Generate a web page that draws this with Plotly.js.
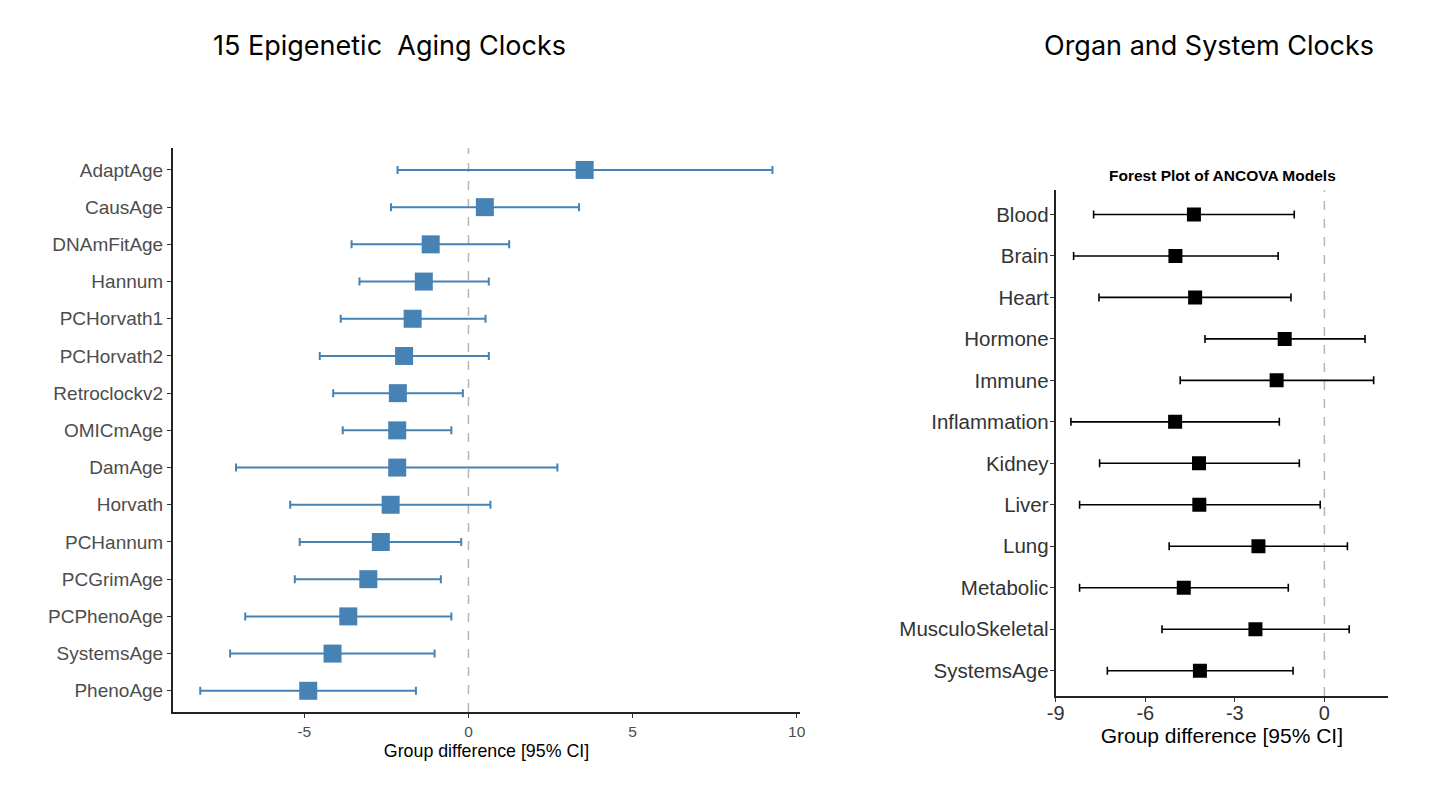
<!DOCTYPE html>
<html>
<head>
<meta charset="utf-8">
<script src="https://cdn.plot.ly/plotly-3.0.1.min.js"></script>
<style>html,body{margin:0;padding:0;background:#fff;}#chart{width:1456px;height:793px;}</style>
</head>
<body>
<div id="chart"></div>
<script>
// Left panel: 15 epigenetic clocks (top to bottom)
const epiClocks = ["AdaptAge","CausAge","DNAmFitAge","Hannum","PCHorvath1","PCHorvath2","Retroclockv2","OMICmAge","DamAge","Horvath","PCHannum","PCGrimAge","PCPhenoAge","SystemsAge","PhenoAge"];
const epiEst   = [3.54, 0.50, -1.15, -1.36, -1.70, -1.96, -2.15, -2.17, -2.17, -2.37, -2.67, -3.05, -3.66, -4.14, -4.88];
const epiLower = [-2.16, -2.36, -3.56, -3.32, -3.89, -4.53, -4.12, -3.83, -7.08, -5.43, -5.14, -5.29, -6.80, -7.26, -8.17];
const epiUpper = [9.26, 3.37, 1.24, 0.62, 0.52, 0.62, -0.17, -0.52, 2.71, 0.67, -0.22, -0.84, -0.52, -1.03, -1.60];
const epiTicks = [-5, 0, 5, 10];

// Right panel: organ and system clocks (top to bottom)
const organClocks = ["Blood","Brain","Heart","Hormone","Immune","Inflammation","Kidney","Liver","Lung","Metabolic","MusculoSkeletal","SystemsAge"];
const organEst   = [-4.37, -4.99, -4.33, -1.33, -1.60, -5.00, -4.20, -4.19, -2.21, -4.71, -2.31, -4.17];
const organLower = [-7.73, -8.40, -7.55, -4.00, -4.83, -8.49, -7.53, -8.20, -5.20, -8.20, -5.44, -7.27];
const organUpper = [-1.01, -1.55, -1.12, 1.36, 1.65, -1.51, -0.84, -0.14, 0.77, -1.21, 0.83, -1.05];
const organTicks = [-9, -6, -3, 0];

const AXFONT = "Liberation Sans, Arial, sans-serif";
const TITLEFONT = "Inter, Lato, sans-serif";

const traces = [
  {
    type: "scatter", mode: "markers", xaxis: "x", yaxis: "y",
    x: epiEst, y: epiClocks,
    marker: {symbol: "square", size: 18, color: "#4682B4"},
    error_x: {type: "data", symmetric: false,
      array: epiUpper.map((u, i) => u - epiEst[i]),
      arrayminus: epiLower.map((l, i) => epiEst[i] - l),
      color: "#4682B4", thickness: 2, width: 4},
    hoverinfo: "x+y", showlegend: false
  },
  {
    type: "scatter", mode: "markers", xaxis: "x2", yaxis: "y2",
    x: organEst, y: organClocks,
    marker: {symbol: "square", size: 14, color: "#000000"},
    error_x: {type: "data", symmetric: false,
      array: organUpper.map((u, i) => u - organEst[i]),
      arrayminus: organLower.map((l, i) => organEst[i] - l),
      color: "#000000", thickness: 1.6, width: 4},
    hoverinfo: "x+y", showlegend: false
  }
];

const layout = {
  width: 1456, height: 793,
  margin: {l: 0, r: 0, t: 0, b: 0},
  paper_bgcolor: "#ffffff", plot_bgcolor: "#ffffff",
  showlegend: false,
  xaxis: {
    domain: [173/1456, 800/1456], anchor: "y",
    range: [-9.0, 10.1], tickvals: epiTicks, ticktext: epiTicks.map(String),
    showgrid: false, zeroline: false,
    showline: true, linecolor: "#222", linewidth: 2,
    ticks: "outside", ticklen: 4, tickcolor: "#333", tickwidth: 1,
    tickfont: {family: AXFONT, size: 15.5, color: "#4d4d4d"},
    title: {text: "Group difference [95% CI]", standoff: 6, font: {family: AXFONT, size: 17.8, color: "#000"}}
  },
  yaxis: {
    domain: [1 - 712/793, 1 - 148/793], anchor: "x",
    type: "category", categoryarray: epiClocks, categoryorder: "array",
    range: [14.57, -0.59],
    showgrid: false, zeroline: false,
    showline: true, linecolor: "#222", linewidth: 2,
    ticks: "outside", ticklen: 4, tickcolor: "#333", tickwidth: 1,
    tickfont: {family: AXFONT, size: 19, color: "#4d4d4d"}
  },
  xaxis2: {
    domain: [1055.7/1456, 1388/1456], anchor: "y2",
    range: [-9.0, 2.13], tickvals: organTicks, ticktext: organTicks.map(String),
    showgrid: false, zeroline: false,
    showline: true, linecolor: "#222", linewidth: 2,
    ticks: "outside", ticklen: 4, tickcolor: "#333", tickwidth: 1,
    ticklabelstandoff: -6,
    tickfont: {family: AXFONT, size: 20, color: "#333"},
    title: {text: "Group difference [95% CI]", standoff: 0, font: {family: AXFONT, size: 21, color: "#000"}}
  },
  yaxis2: {
    domain: [1 - 696/793, 1 - 190/793], anchor: "x2",
    type: "category", categoryarray: organClocks, categoryorder: "array",
    range: [11.61, -0.59],
    showgrid: false, zeroline: false,
    showline: true, linecolor: "#222", linewidth: 2,
    ticks: "outside", ticklen: 4, tickcolor: "#333", tickwidth: 1,
    ticklabelstandoff: -3,
    tickfont: {family: AXFONT, size: 20.5, color: "#333"}
  },
  shapes: [
    {type: "line", xref: "x", yref: "y domain", x0: 0, x1: 0, y0: 0, y1: 1,
     line: {color: "#b5b5b5", width: 1.5, dash: "dash"}, layer: "below"},
    {type: "line", xref: "x2", yref: "y2 domain", x0: 0, x1: 0, y0: 0, y1: 1,
     line: {color: "#b5b5b5", width: 1.5, dash: "dash"}, layer: "below"}
  ],
  annotations: [
    {text: "15 Epigenetic\u00a0 Aging Clocks", xref: "paper", yref: "paper",
     x: 389/1456, y: 1 - 46/793, xanchor: "center", yanchor: "middle", showarrow: false,
     font: {family: TITLEFONT, size: 27, color: "#000"}},
    {text: "Organ and System Clocks", xref: "paper", yref: "paper",
     x: 1209/1456, y: 1 - 46/793, xanchor: "center", yanchor: "middle", showarrow: false,
     font: {family: TITLEFONT, size: 27, color: "#000"}},
    {text: "<b>Forest Plot of ANCOVA Models</b>", xref: "paper", yref: "paper",
     x: 1222/1456, y: 1 - 175/793, xanchor: "center", yanchor: "middle", showarrow: false,
     font: {family: AXFONT, size: 15.5, color: "#000"}}
  ]
};

Plotly.newPlot("chart", traces, layout, {displayModeBar: false, staticPlot: true});
</script>
</body>
</html>
